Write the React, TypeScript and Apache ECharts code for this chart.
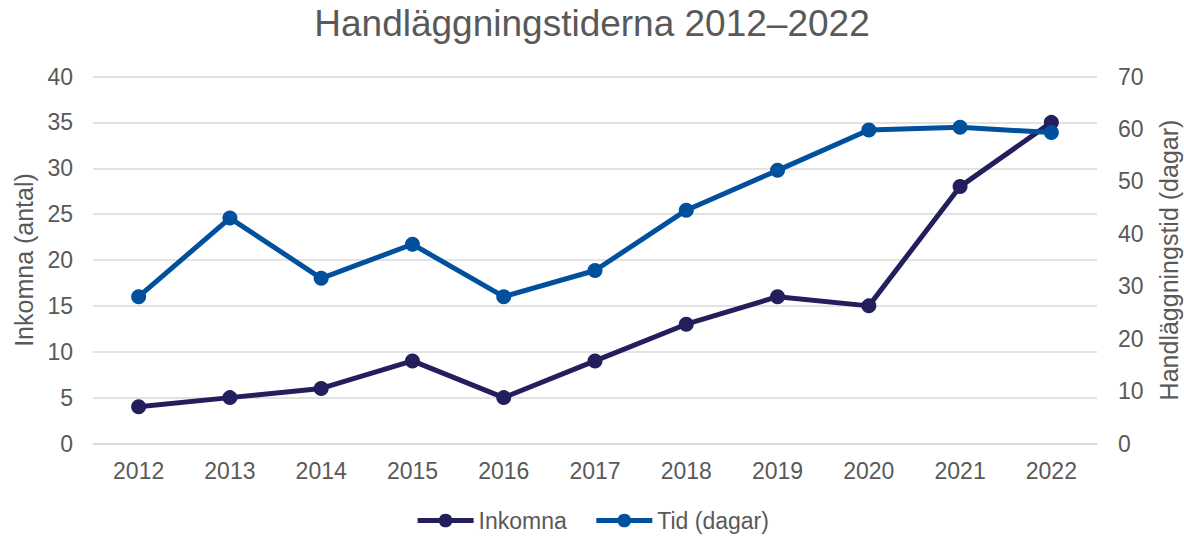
import React, { useEffect, useRef } from "react";
import * as echarts from "echarts";

const years = ["2012", "2013", "2014", "2015", "2016", "2017", "2018", "2019", "2020", "2021", "2022"];
const inkomna = [4, 5, 6, 9, 5, 9, 13, 16, 15, 28, 35];
const tidDagar = [28, 43, 31.5, 38, 28, 33, 44.5, 52.1, 59.8, 60.3, 59.3];

const titleText = "Handläggningstiderna 2012–2022";
const leftName = "Inkomna (antal)";
const rightName = "Handläggningstid (dagar)";

export default function App() {
  const ref = useRef<HTMLDivElement>(null);
  useEffect(() => {
    if (!ref.current) return;
    const chart = echarts.init(ref.current, null, { renderer: "svg" });
    const font = "'Liberation Sans', Arial, sans-serif";
    const grey = "#595959";
    chart.setOption({
      animation: false,
      textStyle: { fontFamily: font },
      title: {
        text: titleText,
        left: "center",
        top: 0,
        textStyle: { fontFamily: font, fontSize: 37, fontWeight: "normal", color: grey },
      },
      grid: { left: 93, right: 87, top: 76.5, bottom: 92.5, containLabel: false, outerBoundsMode: "none" },
      legend: {
        top: 504,
        left: "center",
        itemWidth: 56,
        itemHeight: 17,
        itemGap: 27,
        lineStyle: { width: 5 },
        textStyle: { fontFamily: font, fontSize: 23, color: grey },
        data: ["Inkomna", "Tid (dagar)"],
      },
      xAxis: {
        type: "category",
        data: years,
        boundaryGap: true,
        axisLine: { show: true, lineStyle: { color: "#d9d9d9", width: 1.5 } },
        axisTick: { show: false },
        axisLabel: { fontFamily: font, fontSize: 23, color: grey, margin: 16 },
      },
      yAxis: [
        {
          type: "value",
          min: 0,
          max: 40,
          interval: 5,
          name: leftName,
          nameLocation: "middle",
          nameRotate: 90,
          nameGap: 57,
          nameTextStyle: { fontFamily: font, fontSize: 25, color: grey },
          axisLine: { show: false },
          axisTick: { show: false },
          axisLabel: { fontFamily: font, fontSize: 23, color: grey, margin: 20 },
          splitLine: { lineStyle: { color: "#d9d9d9", width: 1.5 } },
        },
        {
          type: "value",
          min: 0,
          max: 70,
          interval: 10,
          name: rightName,
          nameLocation: "middle",
          nameRotate: 90,
          nameGap: 59,
          nameTextStyle: { fontFamily: font, fontSize: 25, color: grey },
          axisLine: { show: false },
          axisTick: { show: false },
          axisLabel: { fontFamily: font, fontSize: 23, color: grey, margin: 21 },
          splitLine: { show: false },
        },
      ],
      series: [
        {
          name: "Inkomna",
          type: "line",
          yAxisIndex: 0,
          data: inkomna,
          symbol: "circle",
          symbolSize: 15,
          lineStyle: { color: "#231F5C", width: 5 },
          itemStyle: { color: "#231F5C" },
          z: 3,
        },
        {
          name: "Tid (dagar)",
          type: "line",
          yAxisIndex: 1,
          data: tidDagar,
          symbol: "circle",
          symbolSize: 15,
          lineStyle: { color: "#00509E", width: 5 },
          itemStyle: { color: "#00509E" },
          z: 4,
        },
      ],
    });
    return () => chart.dispose();
  }, []);
  return <div ref={ref} style={{ width: 1184, height: 536, position: "absolute", left: 0, top: 0 }} />;
}
